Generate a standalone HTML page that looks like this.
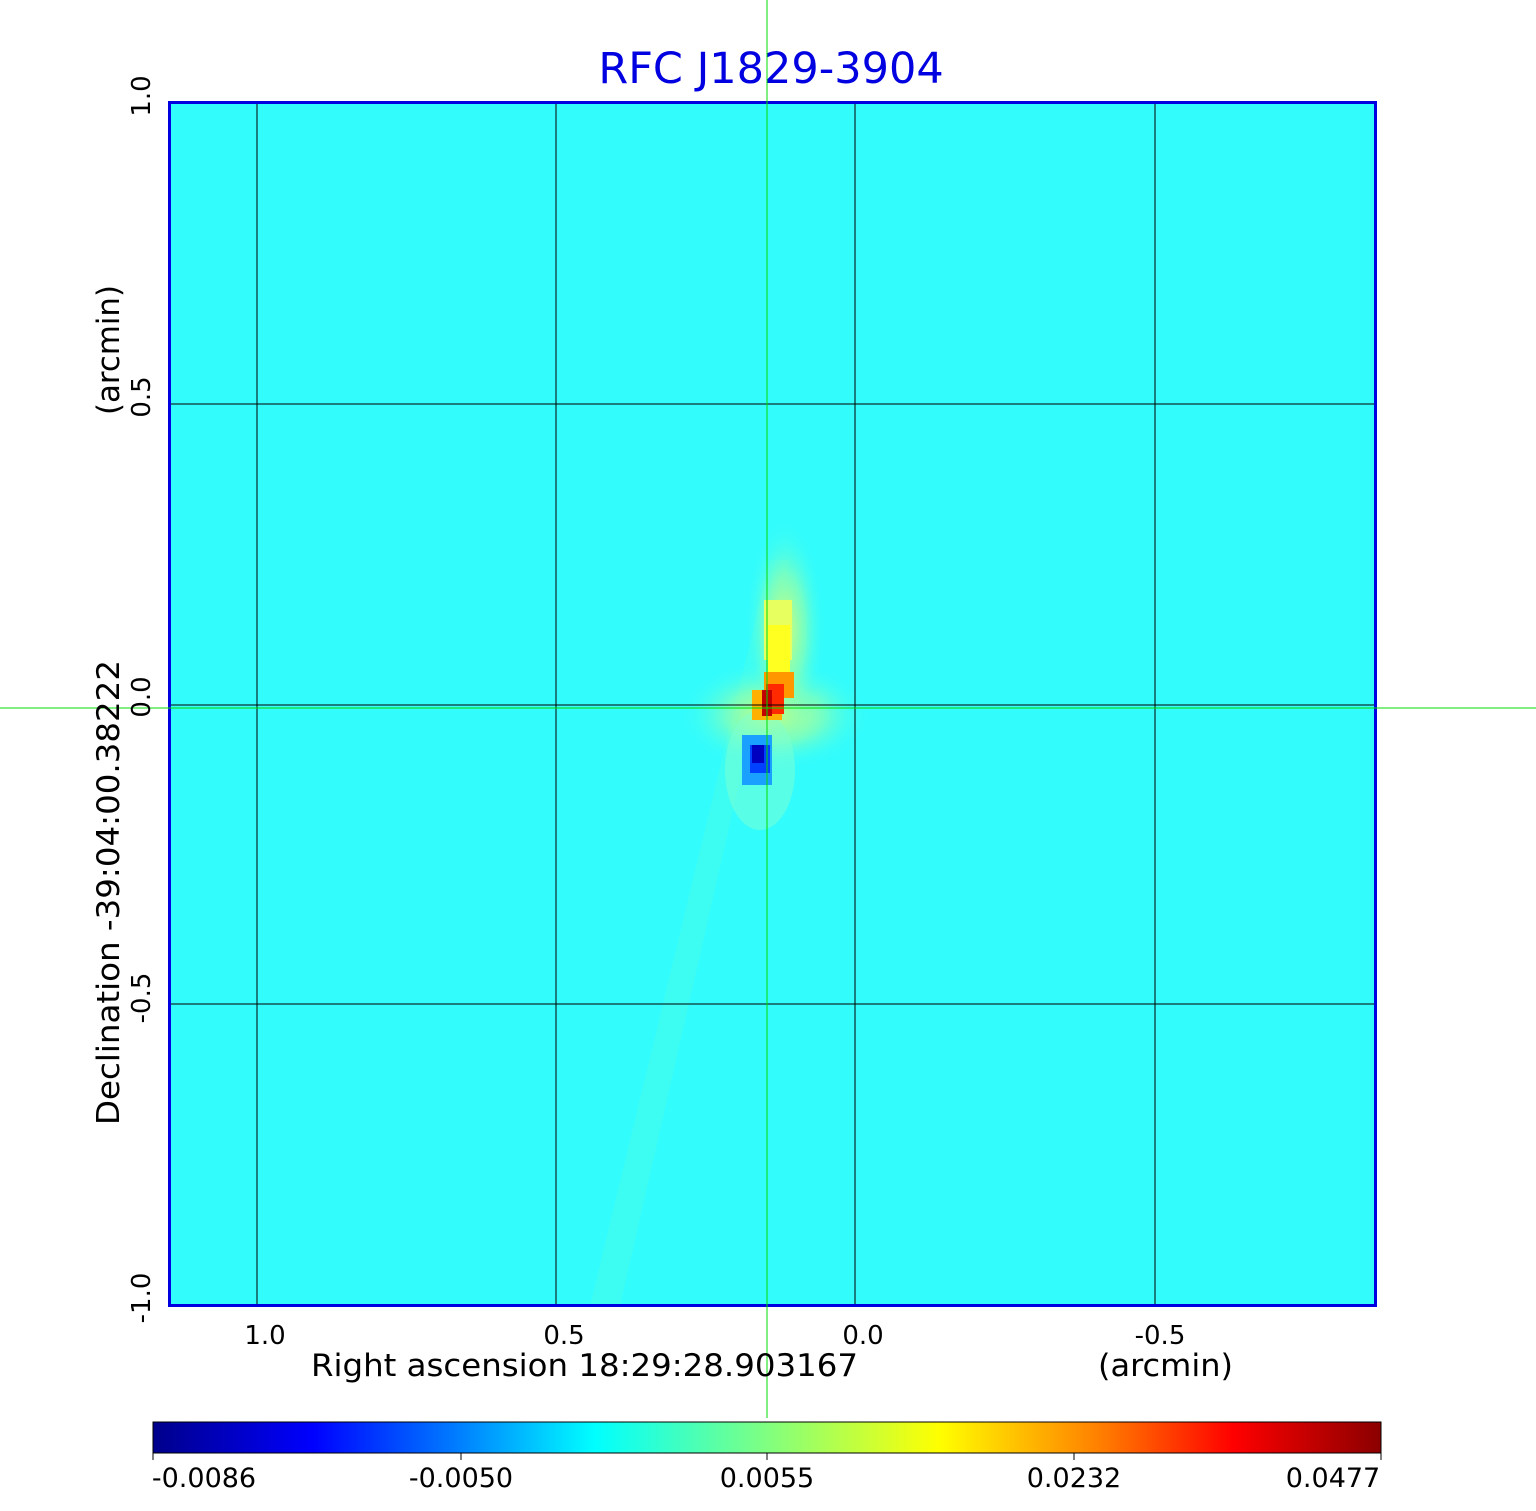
<!DOCTYPE html>
<html><head><style>body{margin:0;background:#fff}svg{display:block}</style></head>
<body>
<svg width="1536" height="1511" xmlns="http://www.w3.org/2000/svg" font-family="DejaVu Sans, Liberation Sans, sans-serif">
<defs>
<linearGradient id="jet" x1="0" x2="1" y1="0" y2="0">
<stop offset="0" stop-color="#00008b"/>
<stop offset="0.13" stop-color="#0000ff"/>
<stop offset="0.25" stop-color="#0080ff"/>
<stop offset="0.36" stop-color="#00ffff"/>
<stop offset="0.5" stop-color="#80ff80"/>
<stop offset="0.64" stop-color="#ffff00"/>
<stop offset="0.77" stop-color="#ff8000"/>
<stop offset="0.88" stop-color="#ff0000"/>
<stop offset="1" stop-color="#8b0000"/>
</linearGradient>
<radialGradient id="glow" cx="0.5" cy="0.5" r="0.5">
<stop offset="0" stop-color="#d8ff70" stop-opacity="1"/>
<stop offset="0.5" stop-color="#a0ffa0" stop-opacity="0.6"/>
<stop offset="1" stop-color="#33ffff" stop-opacity="0"/>
</radialGradient>
</defs>
<text x="771" y="83" font-size="43" fill="#0000e0" text-anchor="middle">RFC J1829-3904</text>
<rect x="169" y="102" width="1207" height="1204" fill="#33fcfc"/>
<polygon points="590,1306 620,1306 790,560 770,560" fill="#55ffdd" opacity="0.3"/>
<ellipse cx="775" cy="715" rx="95" ry="55" fill="url(#glow)"/>
<ellipse cx="785" cy="630" rx="40" ry="110" fill="url(#glow)"/>
<ellipse cx="760" cy="770" rx="35" ry="60" fill="#80ffd0" opacity="0.5"/>
<rect x="764" y="600" width="28" height="60" fill="#e8ff60"/>
<rect x="768" y="625" width="22" height="50" fill="#ffff20"/>
<rect x="764" y="672" width="30" height="26" fill="#ff9800"/>
<rect x="752" y="690" width="30" height="30" fill="#ffb000"/>
<rect x="766" y="684" width="18" height="30" fill="#ff2a00"/>
<rect x="762" y="690" width="10" height="26" fill="#c00000"/>
<rect x="742" y="735" width="30" height="50" fill="#1aa0ff"/>
<rect x="750" y="745" width="20" height="28" fill="#0040ff"/>
<rect x="752" y="745" width="12" height="18" fill="#0000c0"/>
<g stroke="#000" stroke-width="1">
<line x1="257" y1="102" x2="257" y2="1306"/><line x1="556" y1="102" x2="556" y2="1306"/>
<line x1="855" y1="102" x2="855" y2="1306"/><line x1="1155" y1="102" x2="1155" y2="1306"/>
<line x1="169" y1="404" x2="1376" y2="404"/><line x1="169" y1="705" x2="1376" y2="705"/>
<line x1="169" y1="1004" x2="1376" y2="1004"/>
</g>
<rect x="169.5" y="102.5" width="1206" height="1203" fill="none" stroke="#0000e0" stroke-width="3"/>
<line x1="767" y1="0" x2="767" y2="1418" stroke="#00dd00" stroke-width="1"/>
<line x1="0" y1="708" x2="1536" y2="708" stroke="#00dd00" stroke-width="1"/>
<g font-size="26" fill="#000" text-anchor="middle">
<text x="265" y="1344">1.0</text><text x="564" y="1344">0.5</text><text x="863" y="1344">0.0</text><text x="1160" y="1344">-0.5</text>
</g>
<text x="311" y="1376" font-size="31" textLength="547" lengthAdjust="spacingAndGlyphs">Right ascension  18:29:28.903167</text>
<text x="1098" y="1376" font-size="31" textLength="135" lengthAdjust="spacingAndGlyphs">(arcmin)</text>
<g font-size="26" text-anchor="middle">
<text transform="translate(150,96) rotate(-90)">1.0</text>
<text transform="translate(150,397) rotate(-90)">0.5</text>
<text transform="translate(150,697) rotate(-90)">0.0</text>
<text transform="translate(150,998) rotate(-90)">-0.5</text>
<text transform="translate(150,1298) rotate(-90)">-1.0</text>
</g>
<text transform="translate(119,1125) rotate(-90)" font-size="31" textLength="465" lengthAdjust="spacingAndGlyphs">Declination  -39:04:00.38222</text>
<text transform="translate(119,415) rotate(-90)" font-size="31" textLength="130" lengthAdjust="spacingAndGlyphs">(arcmin)</text>
<rect x="153" y="1422" width="1228" height="31" fill="url(#jet)" stroke="#000" stroke-width="1"/>
<g stroke="#000"><line x1="153" y1="1453" x2="153" y2="1460"/><line x1="461" y1="1453" x2="461" y2="1460"/><line x1="767" y1="1453" x2="767" y2="1460"/><line x1="1074" y1="1453" x2="1074" y2="1460"/><line x1="1381" y1="1453" x2="1381" y2="1460"/></g>
<g font-size="27" text-anchor="middle">
<text x="204" y="1487">-0.0086</text><text x="461" y="1487">-0.0050</text><text x="767" y="1487">0.0055</text><text x="1074" y="1487">0.0232</text><text x="1333" y="1487">0.0477</text>
</g>
</svg>
</body></html>
